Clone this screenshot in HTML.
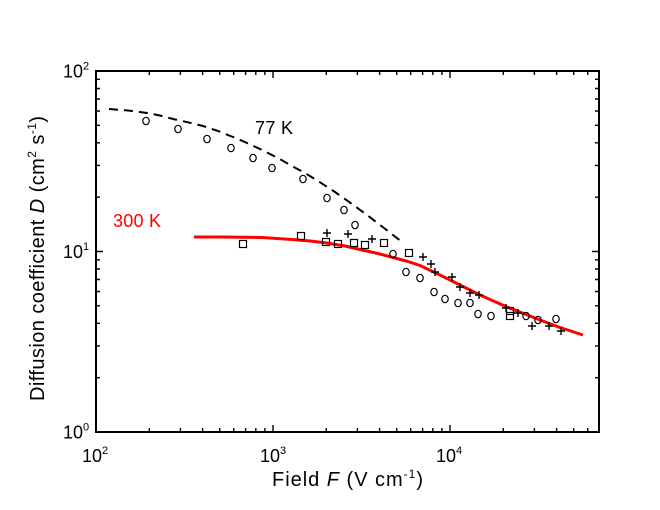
<!DOCTYPE html>
<html><head><meta charset="utf-8"><style>
html,body{margin:0;padding:0;background:#fff;}
svg{display:block;}
</style></head><body>
<svg width="660" height="510" viewBox="0 0 660 510" xmlns="http://www.w3.org/2000/svg" font-family="'Liberation Sans', Arial, sans-serif">
<rect width="660" height="510" fill="#fff"/>

<!-- ticks -->
<path fill="none" stroke="#000" stroke-width="1.4" d="
M149.3 432v-4M180.4 432v-4M202.6 432v-4M219.7 432v-4M233.7 432v-4M245.6 432v-4M255.8 432v-4M264.9 432v-4
M326.3 432v-4M357.4 432v-4M379.6 432v-4M396.7 432v-4M410.7 432v-4M422.6 432v-4M432.8 432v-4M441.9 432v-4
M503.3 432v-4M534.4 432v-4M556.6 432v-4M573.7 432v-4M587.7 432v-4
M273 432v-7M450 432v-7
M149.3 71v4M180.4 71v4M202.6 71v4M219.7 71v4M233.7 71v4M245.6 71v4M255.8 71v4M264.9 71v4
M326.3 71v4M357.4 71v4M379.6 71v4M396.7 71v4M410.7 71v4M422.6 71v4M432.8 71v4M441.9 71v4
M503.3 71v4M534.4 71v4M556.6 71v4M573.7 71v4M587.7 71v4
M273 71v7M450 71v7
M96 377.7h4M96 345.9h4M96 323.3h4M96 305.8h4M96 291.5h4M96 279.5h4M96 269h4M96 259.8h4
M96 197.2h4M96 165.4h4M96 142.8h4M96 125.3h4M96 111h4M96 99h4M96 88.5h4M96 79.3h4
M96 251.5h7
M599 377.7h-4M599 345.9h-4M599 323.3h-4M599 305.8h-4M599 291.5h-4M599 279.5h-4M599 269h-4M599 259.8h-4
M599 197.2h-4M599 165.4h-4M599 142.8h-4M599 125.3h-4M599 111h-4M599 99h-4M599 88.5h-4M599 79.3h-4
M599 251.5h-7
"/>
<rect x="96" y="71" width="503" height="361" fill="none" stroke="#000" stroke-width="2"/>

<!-- y tick labels -->
<g font-size="18" fill="#000">
<text x="63" y="438.5">10<tspan font-size="11" dy="-8">0</tspan></text>
<text x="63" y="258">10<tspan font-size="11" dy="-8">1</tspan></text>
<text x="63" y="77.5">10<tspan font-size="11" dy="-8">2</tspan></text>
</g>
<!-- x tick labels -->
<g font-size="18" fill="#000">
<text x="82" y="462">10<tspan font-size="11" dy="-8">2</tspan></text>
<text x="260" y="462">10<tspan font-size="11" dy="-8">3</tspan></text>
<text x="436" y="462">10<tspan font-size="11" dy="-8">4</tspan></text>
</g>

<!-- axis titles -->
<text x="272" y="486" font-size="20" textLength="151" fill="#000">Field <tspan font-style="italic">F</tspan> (V cm<tspan font-size="12" dy="-8">-1</tspan><tspan dy="8">)</tspan></text>
<text transform="translate(44,401) rotate(-90)" x="0" y="0" font-size="20" textLength="285" fill="#000">Diffusion coefficient <tspan font-style="italic">D</tspan> (cm<tspan font-size="12" dy="-8">2</tspan><tspan dy="8"> s</tspan><tspan font-size="12" dy="-8">-1</tspan><tspan dy="8">)</tspan></text>

<!-- curve labels -->
<text x="255" y="134" font-size="18" textLength="38" fill="#000">77 K</text>
<text x="113" y="227" font-size="18" textLength="48" fill="#ff0000">300 K</text>

<!-- 77 K dashed curve -->
<polyline fill="none" stroke="#000" stroke-width="2" stroke-dasharray="9 6" points="109,109 128,110.5 147,113 160,115.5 173,119 188,122.3 203,126 218,131 233,137 246,142.5 260,149 278,158 291,165.5 305,173 320,182.3 335,192 351,203.3 367,215 384,228 402,242"/>

<!-- 300 K red curve -->
<polyline fill="none" stroke="#ff0000" stroke-width="3" stroke-linejoin="round" points="194,237 220,237 262,237.5 292,239.5 310,241 327,243 345,246 360,249.5 380,254 393,257.5 408,261.5 420,265.5 440,275 460,285 480,295 507,307 525,314 540,320 560,327.5 583,335"/>

<!-- circles -->
<g fill="none" stroke="#000" stroke-width="1.2">
<ellipse cx="146" cy="121" rx="3.2" ry="3.7"/>
<ellipse cx="178" cy="129" rx="3.2" ry="3.7"/>
<ellipse cx="207" cy="139" rx="3.2" ry="3.7"/>
<ellipse cx="231" cy="148" rx="3.2" ry="3.7"/>
<ellipse cx="253" cy="158" rx="3.2" ry="3.7"/>
<ellipse cx="272" cy="168" rx="3.2" ry="3.7"/>
<ellipse cx="303" cy="179" rx="3.2" ry="3.7"/>
<ellipse cx="327" cy="198" rx="3.2" ry="3.7"/>
<ellipse cx="344" cy="210" rx="3.2" ry="3.7"/>
<ellipse cx="355" cy="225" rx="3.2" ry="3.7"/>
<ellipse cx="393" cy="254" rx="3.2" ry="3.7"/>
<ellipse cx="406" cy="272" rx="3.2" ry="3.7"/>
<ellipse cx="420" cy="278" rx="3.2" ry="3.7"/>
<ellipse cx="434" cy="292" rx="3.2" ry="3.7"/>
<ellipse cx="445" cy="299" rx="3.2" ry="3.7"/>
<ellipse cx="458" cy="303" rx="3.2" ry="3.7"/>
<ellipse cx="470" cy="303" rx="3.2" ry="3.7"/>
<ellipse cx="478" cy="314" rx="3.2" ry="3.7"/>
<ellipse cx="491" cy="316" rx="3.2" ry="3.7"/>
<ellipse cx="526" cy="316" rx="3.2" ry="3.7"/>
<ellipse cx="538" cy="320" rx="3.2" ry="3.7"/>
<ellipse cx="556" cy="319" rx="3.2" ry="3.7"/>
</g>

<!-- squares -->
<g fill="none" stroke="#000" stroke-width="1.2">
<rect x="239.5" y="240.5" width="7" height="7"/>
<rect x="297.5" y="232.5" width="7" height="7"/>
<rect x="322.5" y="238.5" width="7" height="7"/>
<rect x="334.5" y="240.5" width="7" height="7"/>
<rect x="350.5" y="239.5" width="7" height="7"/>
<rect x="361.5" y="241.5" width="7" height="7"/>
<rect x="380.5" y="239.5" width="7" height="7"/>
<rect x="405.5" y="249.5" width="7" height="7"/>
<rect x="506.5" y="307.5" width="7" height="7"/>
<rect x="506.5" y="312.5" width="7" height="7"/>
</g>

<!-- crosses -->
<path fill="none" stroke="#000" stroke-width="1.4" d="
M323 233h8M327 229v8
M344 234h8M348 230v8
M368 239h8M372 235v8
M419 257h8M423 253v8
M427 264h8M431 260v8
M431 272h8M435 268v8
M448 277h8M452 273v8
M456 287h8M460 283v8
M466 293h8M470 289v8
M475 295h8M479 291v8
M502 308h8M506 304v8
M514 313h8M518 309v8
M528 326h8M532 322v8
M545 326h8M549 322v8
M557 331h8M561 327v8
"/>
</svg>
</body></html>
